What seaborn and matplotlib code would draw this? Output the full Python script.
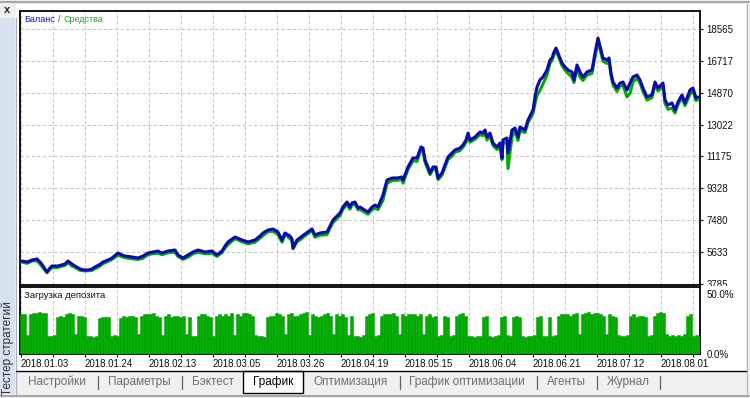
import numpy as np
import pandas as pd
import matplotlib
matplotlib.use("Agg")
import matplotlib.pyplot as plt
import seaborn as sns
from matplotlib.patches import Rectangle
from matplotlib.lines import Line2D
from matplotlib.transforms import Bbox

# ---------------- data ----------------
# position along the test (chart step units; 64 steps between date labels)
t = [1, 6, 11, 16, 20, 24, 26, 29, 31, 37,
     44, 47, 51, 54, 59, 63, 67, 71, 74, 78,
     82, 87, 91, 97, 101, 104, 111, 117, 122, 127,
     132, 137, 141, 147, 154, 157, 162, 167, 172, 177,
     184, 191, 196, 201, 204, 207, 214, 221, 227, 234,
     239, 242, 247, 252, 257, 261, 264, 269, 271, 272,
     276, 280, 284, 291, 294, 299, 306, 309, 312, 315,
     319, 322, 326, 329, 331, 334, 337, 339, 342, 347,
     351, 354, 357, 362, 366, 371, 376, 381, 382, 387,
     392, 396, 400, 402, 404, 407, 409, 412, 415, 417,
     421, 424, 427, 431, 434, 439, 442, 445, 447, 449,
     454, 459, 462, 464, 466, 469, 472, 476, 479, 481,
     482, 486, 487, 491, 494, 497, 499, 504, 507, 512,
     514, 516, 519, 522, 526, 529, 531, 533, 535, 537,
     541, 544, 547, 551, 553, 556, 559, 562, 566, 571,
     574, 577, 578, 580, 582, 586, 588, 590, 592, 596,
     599, 602, 606, 609, 612, 616, 619, 622, 626, 631,
     634, 637, 642, 644, 647, 651, 654, 657, 661, 664,
     669, 672, 675, 677]

balance = [5118, 5061, 5176, 5234, 5003, 4655, 4481, 4713, 4829, 4829,
           4945, 5118, 4945, 4829, 4655, 4597, 4597, 4655, 4771, 4887,
           5061, 5176, 5292, 5582, 5466, 5408, 5350, 5292, 5408, 5582,
           5640, 5698, 5582, 5698, 5756, 5466, 5292, 5466, 5640, 5756,
           5640, 5698, 5466, 5698, 5988, 6220, 6509, 6336, 6220, 6336,
           6567, 6741, 6915, 6973, 6799, 6336, 6741, 6567, 6394, 5872,
           6336, 6509, 6683, 6973, 6625, 6741, 6799, 7147, 7495, 7668,
           7900, 8248, 8538, 8248, 8480, 8538, 8190, 8248, 8132, 7958,
           8248, 8364, 8248, 8944, 9813, 9929, 9929, 9987, 9813, 10567,
           11088, 11088, 11726, 11668, 10972, 10567, 10219, 10567, 10567, 9929,
           10219, 10683, 11146, 11378, 11552, 11668, 11842, 12131, 12537, 12131,
           12305, 12595, 12537, 12711, 12305, 12537, 11958, 11726, 11958, 11088,
           12131, 12247, 11378, 12711, 12827, 12305, 12885, 12711, 13291, 13870,
           14624, 15203, 15609, 15783, 16189, 16768, 16884, 17232, 17464, 17174,
           16594, 16362, 16189, 16073, 15609, 16478, 16073, 15783, 16073, 16189,
           17174, 18043, 17811, 17348, 16884, 16768, 16884, 16015, 15493, 15145,
           15435, 15493, 15029, 15435, 15783, 15899, 15609, 15145, 14624, 14740,
           15493, 15145, 15435, 14450, 14160, 14276, 13870, 14334, 14740, 14276,
           15029, 15145, 14566, 14624]

# how far equity sits below balance at each point
equity_gap = [60, 80, 60, 100, 130, 80, 50, 80, 100, 80,
              80, 100, 130, 80, 80, 50, 50, 80, 100, 100,
              100, 80, 80, 130, 100, 100, 100, 80, 130, 100,
              100, 130, 100, 100, 130, 80, 80, 130, 100, 130,
              100, 130, 80, 100, 130, 150, 100, 100, 100, 130,
              130, 150, 100, 130, 150, 130, 100, 150, 100, 50,
              100, 130, 100, 100, 130, 130, 150, 130, 150, 150,
              150, 130, 150, 130, 100, 130, 100, 150, 130, 130,
              150, 180, 150, 300, 200, 150, 130, 150, 180, 150,
              150, 200, 150, 150, 130, 150, 100, 130, 150, 100,
              130, 150, 150, 180, 130, 150, 130, 150, 150, 130,
              130, 150, 150, 150, 180, 150, 150, 150, 180, 100,
              200, 250, 900, 400, 150, 200, 200, 150, 150, 200,
              400, 500, 600, 400, 300, 200, 150, 150, 130, 150,
              150, 180, 200, 300, 150, 200, 300, 200, 180, 200,
              250, 150, 180, 200, 180, 200, 180, 150, 180, 200,
              180, 200, 400, 600, 300, 180, 180, 200, 180, 150,
              150, 180, 150, 200, 250, 300, 180, 150, 150, 150,
              250, 180, 150, 150]
equity = [b - g for b, g in zip(balance, equity_gap)]

# deposit load, %, one value per 3 chart steps
load = [33, 33, 16, 33, 34, 34, 35, 34, 34, 15,
        15, 16, 31, 32, 31, 33, 34, 33, 17, 32,
        32, 31, 15, 15, 14, 15, 30, 31, 31, 31,
        15, 16, 15, 30, 32, 31, 32, 32, 31, 17,
        32, 33, 33, 33, 34, 32, 31, 16, 32, 33,
        31, 32, 32, 31, 32, 17, 31, 15, 15, 32,
        33, 33, 32, 31, 15, 32, 33, 32, 33, 32,
        34, 16, 33, 32, 34, 34, 33, 32, 16, 15,
        15, 14, 31, 32, 32, 34, 33, 32, 17, 33,
        34, 32, 32, 33, 34, 35, 16, 33, 32, 31,
        32, 33, 34, 32, 17, 33, 32, 33, 31, 16,
        32, 15, 15, 14, 16, 32, 33, 34, 15, 16,
        32, 33, 33, 33, 34, 32, 17, 33, 32, 33,
        33, 33, 32, 33, 17, 32, 33, 31, 32, 15,
        16, 32, 31, 15, 16, 32, 33, 34, 32, 15,
        15, 14, 15, 15, 31, 32, 15, 14, 15, 16,
        31, 32, 16, 15, 31, 32, 31, 15, 14, 15,
        15, 16, 31, 32, 15, 15, 31, 15, 16, 32,
        33, 33, 33, 32, 33, 34, 17, 33, 34, 35,
        33, 34, 34, 33, 32, 17, 33, 32, 31, 16,
        15, 15, 16, 32, 33, 31, 32, 32, 31, 15,
        16, 32, 34, 35, 34, 17, 15, 16, 15, 16,
        15, 17, 32, 33, 15, 16, 15]

y_ticks = [3785, 5633, 7480, 9328, 11175, 13022, 14870, 16717, 18565]
date_labels = ["2018.01.03", "2018.01.24", "2018.02.13", "2018.03.05", "2018.03.26",
               "2018.04.19", "2018.05.15", "2018.06.04", "2018.06.21", "2018.07.12",
               "2018.08.01"]
load_ticks = [0, 50]
load_labels = ["0.0%", "50.0%"]
tabs = ["Настройки", "Параметры", "Бэктест", "График", "Оптимизация",
        "График оптимизации", "Агенты", "Журнал"]
active_tab = "График"

# ---------------- style ----------------
sns.set_theme(style="white")
plt.rcParams['font.family'] = ['Liberation Sans', 'DejaVu Sans']

W, H = 750, 398
BLUE = "#0b0bab"
GREEN = "#03a903"
GRID = "#c8c8c8"

fig = plt.figure(figsize=(W / 100, H / 100), dpi=100)
fig.patch.set_facecolor("#f0f0f0")


def fx(px):
    return px / W


def fy(py):
    return 1 - py / H


def frect(x0, y0, x1, y1, **kw):
    r = Rectangle((fx(x0), fy(y1)), fx(x1) - fx(x0), fy(y0) - fy(y1),
                  transform=fig.transFigure, **kw)
    fig.patches.append(r)
    return r


# window chrome
frect(16, 4, 746, 371, facecolor="white", edgecolor="none", zorder=-2)
frect(0, 18, 15, 394, facecolor="#d7e2ee", edgecolor="none", zorder=-2)
fig.lines.append(Line2D([0, 1], [fy(1.5), fy(1.5)], transform=fig.transFigure,
                        color="#a8a8a8", lw=1.5))
fig.lines.append(Line2D([fx(15.5), fx(15.5)], [fy(18), fy(394)], transform=fig.transFigure,
                        color="#a8b4c4", lw=0.8))
fig.lines.append(Line2D([0, 1], [fy(395.5), fy(395.5)], transform=fig.transFigure,
                        color="#a8a8a8", lw=1.5))
fig.lines.append(Line2D([fx(747), fx(747)], [fy(4), fy(394)], transform=fig.transFigure,
                        color="#b0b0b0", lw=0.8))
fig.text(fx(7.5), fy(10), "x", fontsize=8, fontweight="bold", ha="center", va="center",
         color="#202020")
fig.text(fx(8), fy(348), "Тестер стратегий", rotation=90, fontsize=8.5,
         ha="center", va="center", color="#303030")

# ---------------- balance / equity panel ----------------
ax1 = fig.add_axes([fx(20), fy(285), fx(700) - fx(20), fy(11) - fy(285)])
ax1.set_facecolor("white")
sns.lineplot(x=t, y=equity, ax=ax1, color=GREEN, lw=2.2, sort=False, estimator=None,
             zorder=3)
sns.lineplot(x=t, y=balance, ax=ax1, color=BLUE, lw=2.2, sort=False, estimator=None,
             zorder=4)
ax1.set_xlim(-1, 679)
ax1.set_ylim(3727, 19608)
ax1.set_xticks(np.arange(0, 680, 32))
ax1.set_xticklabels([])
ax1.tick_params(axis="x", length=0)
ax1.yaxis.tick_right()
ax1.set_yticks(y_ticks)
ax1.set_yticklabels([str(v) for v in y_ticks])
ax1.tick_params(axis="y", right=True, direction="out", length=2.5, width=0.8,
                labelsize=7, pad=2, colors="#101010")
ax1.grid(True, color=GRID, linestyle=(0, (3, 2)), linewidth=0.8)
ax1.set_axisbelow(True)
ax1.set_xlabel("")
ax1.set_ylabel("")
for s in ax1.spines.values():
    s.set_color("black")
    s.set_linewidth(1.3)

ax1.text(4 / 680, 1 - 8 / 274, "Баланс", transform=ax1.transAxes, fontsize=6.5,
         color="#1010c8", ha="left", va="center")
ax1.text(38 / 680, 1 - 8 / 274, "/", transform=ax1.transAxes, fontsize=6.5,
         color="#404080", ha="left", va="center")
ax1.text(43 / 680, 1 - 8 / 274, "Средства", transform=ax1.transAxes, fontsize=6.5,
         color="#10b010", ha="left", va="center")

# ---------------- deposit load panel ----------------
# categorical bars: bar i spans 3 chart steps; convert chart steps -> bar index
ax2 = fig.add_axes([fx(20), fy(354), fx(700) - fx(20), fy(287) - fy(354)])
ax2.set_facecolor("white")
nb = len(load)
load_df = pd.DataFrame({"bin": np.arange(nb), "load": load})
sns.barplot(data=load_df, x="bin", y="load", width=1, color=GREEN, saturation=1,
            errorbar=None, linewidth=0.4, edgecolor=GREEN, ax=ax2, zorder=3)


def step_to_bin(s):
    return (np.asarray(s, dtype=float) + 1) / 3 - 0.5


ax2.set_xlim(step_to_bin(-1), step_to_bin(679))
ax2.set_ylim(0, 55.8)
ax2.set_xticks(step_to_bin(np.arange(0, 680, 64)))
ax2.set_xticklabels(date_labels)
ax2.set_xticks(step_to_bin(np.arange(32, 680, 64)), minor=True)
ax2.tick_params(axis="x", which="both", bottom=True, direction="out", length=2.5,
                width=0.8, labelsize=7, pad=1, colors="#101010")
for lbl in ax2.get_xticklabels():
    lbl.set_ha("left")
ax2.yaxis.tick_right()
ax2.set_yticks(load_ticks)
ax2.set_yticklabels(load_labels)
ax2.tick_params(axis="y", right=True, length=0, labelsize=7, pad=5, colors="#101010")
ax2.grid(True, axis="x", which="both", color=GRID, linestyle=(0, (3, 2)), linewidth=0.8)
ax2.grid(False, axis="y")
ax2.set_axisbelow(True)
ax2.set_xlabel("")
ax2.set_ylabel("")
for s in ax2.spines.values():
    s.set_color("black")
    s.set_linewidth(1.3)
ax2.text(4 / 680, 1 - 9 / 67, "Загрузка депозита", transform=ax2.transAxes,
         fontsize=6.8, color="#101010", ha="left", va="center", zorder=5)

# clip the lowest balance label where the load panel begins
for lbl in ax1.get_yticklabels():
    if lbl.get_text() == str(y_ticks[0]):
        lbl.set_clip_on(True)
        lbl.set_clip_box(Bbox.from_extents(0, H - 286, W, H))

# ---------------- tab bar ----------------
fig.lines.append(Line2D([fx(16), fx(746)], [fy(371), fy(371)], transform=fig.transFigure,
                        color="black", lw=1.0))
tab_x = [28, 108, 192, 253, 313, 409, 547, 607]
sep_x = [98, 182, 400, 537, 597, 660]
for name, x in zip(tabs, tab_x):
    if name == active_tab:
        frect(243, 371, 303, 393, facecolor="white", edgecolor="black", lw=1.0, zorder=1)
        fig.text(fx(x), fy(382), name, fontsize=8.5, color="black", ha="left",
                 va="center", zorder=2)
    else:
        fig.text(fx(x), fy(382), name, fontsize=8.5, color="#6e6e6e", ha="left",
                 va="center")
for x in sep_x:
    fig.lines.append(Line2D([fx(x), fx(x)], [fy(376), fy(389)], transform=fig.transFigure,
                            color="#606060", lw=0.9))

fig.savefig("out.png", dpi=100, facecolor=fig.get_facecolor())
